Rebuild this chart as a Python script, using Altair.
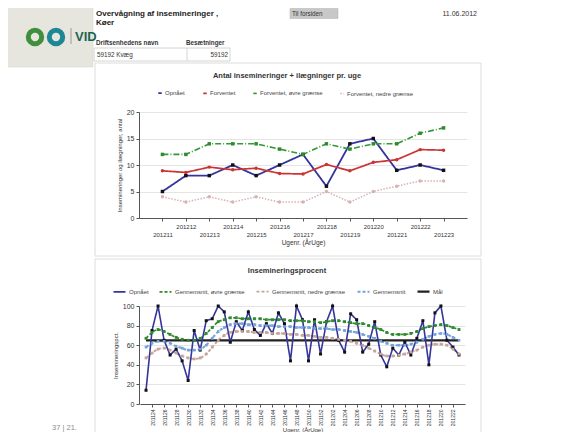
import altair as alt
import pandas as pd

FONT = "Liberation Sans"
M = 8  # page margin (absolute picture coords -> view coords)

# ---------------- chart 1 data ----------------
weeks1 = ["201211", "201212", "201213", "201214", "201215", "201216", "201217",
          "201218", "201219", "201220", "201221", "201222", "201223"]
opnaaet1 = [5, 8, 8, 10, 8, 10, 12, 6, 14, 15, 9, 10, 9]
forventet1 = [8.9, 8.6, 9.6, 9.1, 9.4, 8.4, 8.3, 10.1, 8.9, 10.5, 11.0, 12.9, 12.8]
oevre1 = [12, 12, 14, 14, 14, 13, 12, 14, 13, 14, 14, 16, 17]
nedre1 = [4, 3, 4, 3, 4, 3, 3, 5, 3, 5, 6, 7, 7]
series1 = ["Opnået", "Forventet", "Forventet, øvre grænse", "Forventet, nedre grænse"]

# ---------------- chart 2 data ----------------
weeks2 = ["201123", "201124", "201125", "201126", "201127", "201128", "201129", "201130",
          "201131", "201132", "201133", "201134", "201135", "201136", "201137", "201138",
          "201139", "201140", "201141", "201142", "201143", "201144", "201145", "201146",
          "201147", "201148", "201149", "201150", "201151", "201152",
          "201201", "201202", "201203", "201204", "201205", "201206", "201207", "201208",
          "201209", "201210", "201211", "201212", "201213", "201214", "201215", "201216",
          "201217", "201218", "201219", "201220", "201221", "201222", "201223"]
opnaaet2 = [14, 75, 100, 65, 50, 56, 44, 24, 75, 55,
            85, 87, 100, 94, 63, 84, 75, 94, 76, 70,
            82, 72, 93, 82, 44, 100, 86, 44, 86, 51,
            84, 100, 65, 53, 92, 86, 53, 61, 84, 50,
            38, 57, 50, 63, 50, 67, 85, 40, 93, 100,
            65, 58, 50]
oevre2 = [67, 73, 76, 74, 71, 68, 66, 65, 65, 67,
          72, 78, 84, 86, 88, 88, 87, 87, 87, 87,
          86, 86, 86, 86, 85, 85, 85, 84, 84, 83,
          84, 85, 85, 84, 83, 82, 82, 80, 78, 76,
          73, 71, 71, 71, 72, 74, 77, 79, 80, 81,
          80, 78, 76]
nedre2 = [47, 52, 56, 57, 55, 52, 49, 47, 46, 47,
          51, 58, 65, 70, 73, 74, 74, 74, 73, 73,
          73, 72, 72, 72, 71, 71, 70, 70, 69, 68,
          68, 67, 66, 65, 64, 62, 60, 57, 54, 51,
          49, 49, 50, 51, 53, 55, 58, 60, 61, 61,
          60, 56, 51]
gennemsnit2 = [58, 62, 64, 64, 62, 59, 57, 55, 55, 56,
               60, 67, 74, 78, 81, 82, 82, 81, 81, 80,
               80, 80, 79, 79, 79, 78, 78, 78, 77, 77,
               77, 76, 76, 75, 74, 73, 71, 69, 67, 64,
               62, 60, 60, 60, 61, 63, 66, 69, 71, 72,
               71, 68, 65]
maal2 = 65
series2 = ["Opnået", "Gennemsnit, øvre grænse", "Gennemsnit, nedre grænse", "Gennemsnit", "Mål"]

# ---------------- tables ----------------
df1 = pd.DataFrame([{"week": w, "series": s, "value": v}
                    for s, vals in zip(series1, [opnaaet1, forventet1, oevre1, nedre1])
                    for w, v in zip(weeks1, vals)])
df2 = pd.DataFrame([{"week": w, "series": s, "value": v}
                    for s, vals in zip(series2[:4], [opnaaet2, oevre2, nedre2, gennemsnit2])
                    for w, v in zip(weeks2, vals)])
maal_df = pd.DataFrame({"series": ["Mål"], "start": [weeks2[0]], "end": [weeks2[-1]], "value": [maal2]})
one = pd.DataFrame({"k": [0]})


def txt(s, x, y, size=7, weight="normal", color="#333333", align="left"):
    return alt.Chart(one).mark_text(
        text=s, fontSize=size, fontWeight=weight, color=color, align=align,
        baseline="middle", font=FONT
    ).encode(x=alt.value(x - M), y=alt.value(y - M))


def box(x0, y0, x1, y1, fill="#ffffff", stroke="#dddddd", sw=1, fo=0):
    return alt.Chart(one).mark_rect(
        fill=fill, fillOpacity=fo, stroke=stroke, strokeWidth=sw
    ).encode(x=alt.value(x0 - M), x2=alt.value(x1 - M), y=alt.value(y0 - M), y2=alt.value(y1 - M))


def ring(x, y, size, color, sw):
    return alt.Chart(one).mark_point(
        shape="circle", size=size, stroke=color, strokeWidth=sw, filled=False, opacity=1
    ).encode(x=alt.value(x - M), y=alt.value(y - M))


# ---------------- decoration / header ----------------
deco = [
    box(0, 0, 93, 67, fill="#e6e6de", stroke="#d0d0c8", sw=0.5, fo=1),
    ring(35, 37, 180, "#3f8f3c", 5),
    ring(56, 37, 180, "#1d8796", 5),
    alt.Chart(one).mark_rule(color="#9a9a9a", strokeWidth=1).encode(
        x=alt.value(71 - M), x2=alt.value(71 - M), y=alt.value(28 - M), y2=alt.value(44 - M)),
    txt("VID", 75, 37, size=13, weight="bold", color="#1e6452"),
    txt("Overvågning af insemineringer ,", 96, 13.5, size=8, weight="bold", color="#222222"),
    txt("Køer", 96, 23, size=8, weight="bold", color="#222222"),
    txt("Driftsenhedens navn", 96, 42.5, size=6.3, weight="bold", color="#333333"),
    txt("Besætninger", 186, 42.5, size=6.3, weight="bold", color="#333333"),
    box(94, 48, 230, 61, stroke="#d4d4d4"),
    alt.Chart(one).mark_rule(color="#d4d4d4", strokeWidth=1).encode(
        x=alt.value(187 - M), x2=alt.value(187 - M), y=alt.value(48 - M), y2=alt.value(61 - M)),
    txt("59192 Kvæg", 97, 55, size=6.3, color="#333333"),
    txt("59192", 228, 55, size=6.3, color="#333333", align="right"),
    box(290, 8.5, 338, 18.5, fill="#c8c8c8", stroke="#b0b0b0", sw=0.5, fo=1),
    txt("Til forsiden", 292, 13.6, size=6.3, color="#333333"),
    txt("11.06.2012", 477, 13.5, size=7, color="#333333", align="right"),
    box(95, 63, 481, 256, stroke="#dcdcdc"),
    box(95, 259, 481, 452, stroke="#dcdcdc"),
    txt("Antal insemineringer + ilægninger pr. uge", 287, 75.5, size=7.5, weight="bold", color="#333333", align="center"),
    txt("Insemineringsprocent", 287, 270.5, size=7.5, weight="bold", color="#333333", align="center"),
    txt("37  |  21.", 52, 428, size=7.5, color="#8c8c8c"),
]

AX = dict(labelFont=FONT, titleFont=FONT, domainColor="#555555", tickColor="#555555",
          labelColor="#333333", titleColor="#333333", titleFontWeight="normal",
          tickSize=3, gridColor="#e4e4e4")

LEG = dict(title=None, orient="none", direction="horizontal", symbolType="stroke", symbolSize=144,
           symbolStrokeWidth=2, labelFontSize=6, labelFont=FONT, labelColor="#444444",
           labelOffset=2, padding=0)

# ---------------- chart 1 ----------------
x1 = alt.Scale(type="point", domain=weeks1, range=[131, 459], padding=1)
y1 = alt.Scale(domain=[0, 20], range=[210, 104], nice=False)
ax1x = alt.Axis(orient="bottom", offset=-214, title="Ugenr. (ÅrUge)", labelAngle=0,
                labelExpr="toNumber(datum.value) % 2 == 1 ? ['', datum.value] : datum.value",
                labelBaseline="top", labelLineHeight=8, labelFontSize=6, labelPadding=2,
                titleFontSize=6.5, titlePadding=2, grid=False, **AX)
ax1y = alt.Axis(orient="left", offset=-131, values=[0, 5, 10, 15, 20], title="Insemineringer og ilægninger, antal",
                labelFontSize=7, labelPadding=2, titleFontSize=6, titlePadding=4, grid=True, **AX)
leg1 = alt.Legend(legendX=149, legendY=82, columns=4, columnPadding=14, **LEG)
c1 = alt.Scale(domain=series1, range=["#34349c", "#cc3333", "#339933", "#d6b2b2"])
d1 = alt.Scale(domain=series1, range=[[1, 0], [1, 0], [6, 2, 1, 2], [1.5, 1.5]])
w1 = alt.Scale(domain=series1, range=[1.8, 1.5, 1.5, 1.2])
fill1 = alt.Scale(domain=series1, range=["#111111", "#cc3333", "#2e8b2e", "#d6b2b2"])
size1 = alt.Scale(domain=series1, range=[12, 12, 9, 4])

lines1 = alt.Chart(df1).mark_line().encode(
    x=alt.X("week:O", scale=x1, axis=ax1x),
    y=alt.Y("value:Q", scale=y1, axis=ax1y),
    color=alt.Color("series:N", scale=c1, legend=leg1),
    strokeDash=alt.StrokeDash("series:N", scale=d1, legend=leg1),
    strokeWidth=alt.StrokeWidth("series:N", scale=w1, legend=None),
)


def markers1(names, shape):
    return alt.Chart(df1).transform_filter(
        alt.FieldOneOfPredicate(field="series", oneOf=names)
    ).transform_calculate(marker="datum.series").mark_point(filled=True, opacity=1, shape=shape).encode(
        x=alt.X("week:O", scale=x1, axis=ax1x),
        y=alt.Y("value:Q", scale=y1, axis=ax1y),
        fill=alt.Fill("marker:N", scale=fill1, legend=None),
        size=alt.Size("marker:N", scale=size1, legend=None),
    )


chart1 = alt.layer(lines1,
                   markers1([series1[0], series1[2]], "square"),
                   markers1([series1[1], series1[3]], "circle"))

# ---------------- chart 2 ----------------
x2 = alt.Scale(type="point", domain=weeks2, range=[132, 457], padding=1.3)
y2 = alt.Scale(domain=[0, 100], range=[396, 298], nice=False)
ax2x = alt.Axis(orient="bottom", offset=-28, values=weeks2[1::2], title="Ugenr. (ÅrUge)", labelAngle=-90,
                labelFontSize=5, labelPadding=2, titleFontSize=6, titlePadding=1, grid=False, **AX)
ax2y = alt.Axis(orient="left", offset=-131, values=[0, 20, 40, 60, 80, 100], title="Insemineringspct.",
                labelFontSize=7, labelPadding=2, titleFontSize=6, titlePadding=4, grid=True, **AX)
leg2 = alt.Legend(legendX=104, legendY=276, columns=5, columnPadding=7, **LEG)
c2 = alt.Scale(domain=series2, range=["#35359a", "#2e8b2e", "#c4a49c", "#74a4dc", "#222222"])
d2 = alt.Scale(domain=series2, range=[[1, 0], [3, 2], [3, 2], [3, 2], [1, 0]])
w2 = alt.Scale(domain=series2, range=[1.6, 2.2, 1.6, 1.6, 1.3])

enc2 = dict(
    x=alt.X("week:O", scale=x2, axis=ax2x),
    y=alt.Y("value:Q", scale=y2, axis=ax2y),
    color=alt.Color("series:N", scale=c2, legend=leg2),
    strokeDash=alt.StrokeDash("series:N", scale=d2, legend=leg2),
    strokeWidth=alt.StrokeWidth("series:N", scale=w2, legend=None),
)
smooth2 = alt.Chart(df2).transform_filter("datum.series != 'Opnået'").mark_line(interpolate="monotone").encode(**enc2)
maal_rule = alt.Chart(maal_df).mark_rule().encode(
    x=alt.X("start:O", scale=x2, axis=ax2x),
    x2="end:O",
    y=alt.Y("value:Q", scale=y2, axis=ax2y),
    color=alt.Color("series:N", scale=c2, legend=leg2),
    strokeDash=alt.StrokeDash("series:N", scale=d2, legend=leg2),
    strokeWidth=alt.StrokeWidth("series:N", scale=w2, legend=None),
)
opn2 = alt.Chart(df2).transform_filter("datum.series == 'Opnået'").mark_line().encode(**enc2)
points2 = alt.Chart(df2).transform_calculate(marker="datum.series").mark_point(filled=True, opacity=1, shape="square").encode(
    x=alt.X("week:O", scale=x2, axis=ax2x),
    y=alt.Y("value:Q", scale=y2, axis=ax2y),
    fill=alt.Fill("marker:N", scale=alt.Scale(domain=series2[:4], range=["#111111", "#2e8b2e", "#c4a49c", "#74a4dc"]), legend=None),
    size=alt.Size("marker:N", scale=alt.Scale(domain=series2[:4], range=[9, 7, 5, 5]), legend=None),
)
chart2 = alt.layer(smooth2, maal_rule, opn2, points2)

chart = alt.layer(*deco, chart1, chart2).resolve_scale(
    x="independent", y="independent", color="independent", strokeDash="independent",
    strokeWidth="independent", fill="independent", size="independent"
).properties(
    width=566, height=424, padding=0, autosize=alt.AutoSizeParams(type="none"), background="#ffffff"
).configure_view(stroke=None)

chart.save("out.html", embed_options={"renderer": "svg", "actions": False})
